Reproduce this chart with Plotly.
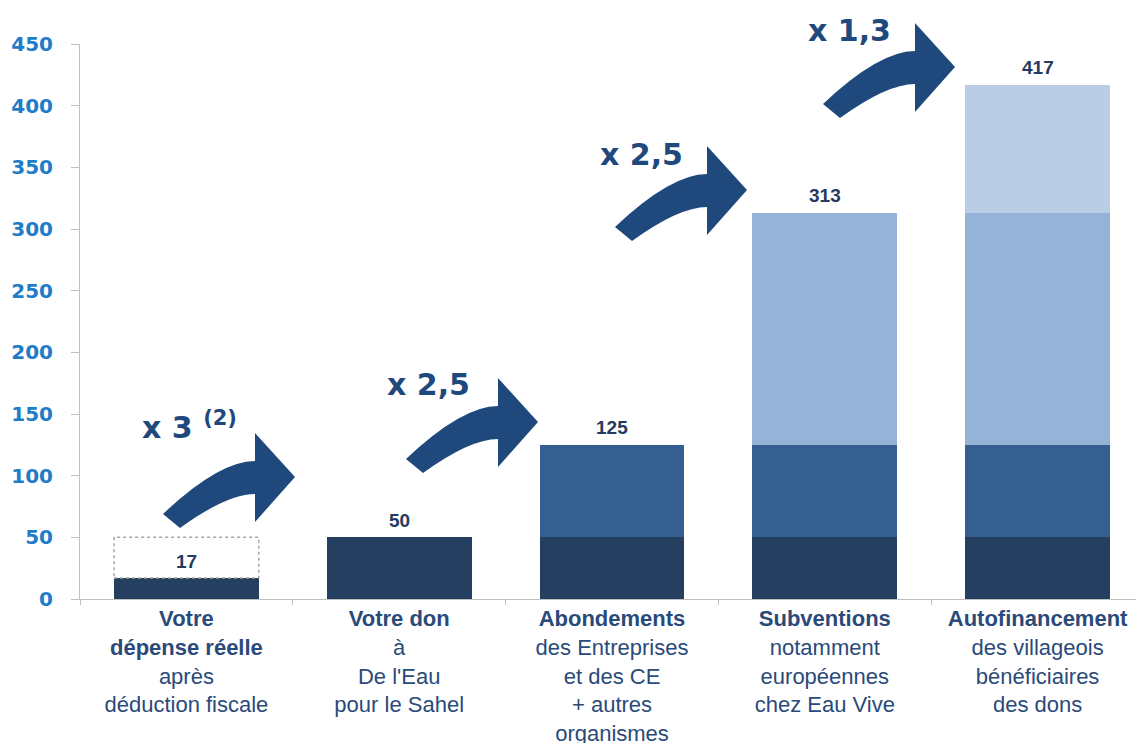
import plotly.graph_objects as go

# ---------------- data ----------------
categories = [
    "<b>Votre<br>dépense réelle</b><br>après<br>déduction fiscale",
    "<b>Votre don</b><br>à<br>De l'Eau<br>pour le Sahel",
    "<b>Abondements</b><br>des Entreprises<br>et des CE<br>+ autres<br>organismes",
    "<b>Subventions</b><br>notamment<br>européennes<br>chez Eau Vive",
    "<b>Autofinancement</b><br>des villageois<br>bénéficiaires<br>des dons",
]
layer_don = [17, 50, 50, 50, 50]          # dark base (17 = real cost after tax deduction)
layer_abondements = [0, 0, 75, 75, 75]
layer_subventions = [0, 0, 0, 188, 188]
layer_autofinancement = [0, 0, 0, 0, 104]
totals = [17, 50, 125, 313, 417]
multipliers = ["x 3 <sup>(2)</sup>", "x 2,5", "x 2,5", "x 1,3"]

layer_colors = ["#243f60", "#355f91", "#95b3d7", "#b9cde5"]
layers = [layer_don, layer_abondements, layer_subventions, layer_autofinancement]

# ---------------- layout geometry (pixels) ----------------
PAGE_OFFSET = 8                      # default body margin of the html page
W, H = 1144 - PAGE_OFFSET, 743 - PAGE_OFFSET
ML, MR, MT, MB = 80 - PAGE_OFFSET, 0, 44 - PAGE_OFFSET, 144
PW, PH = W - ML - MR, H - MT - MB
BOTTOM = H - MB


def to_paper(px, py):
    """page pixel -> paper coordinates"""
    px -= PAGE_OFFSET
    py -= PAGE_OFFSET
    return (px - ML) / PW, (BOTTOM - py) / PH


# curved arrow outline relative to its tip (pixels, y downward)
ARROW = [
    ("M", (0, 0)),
    ("L", (-40, -44)),
    ("L", (-40, -16)),
    ("Q", (-76, -16), (-132, 37)),
    ("L", (-115, 51)),
    ("Q", (-68, 17), (-40, 17)),
    ("L", (-40, 45)),
]
arrow_tips = [(295, 477), (538, 422), (747, 190), (955, 67)]
label_pos = [(140, 425), (385, 385), (598, 155), (806, 30)]


def arrow_path(tip):
    tx, ty = tip
    parts = []
    for seg in ARROW:
        cmd, pts = seg[0], seg[1:]
        coords = []
        for (dx, dy) in pts:
            x, y = to_paper(tx + dx, ty + dy)
            coords.append(f"{x:.5f},{y:.5f}")
        parts.append(cmd + " " + " ".join(coords))
    return " ".join(parts) + " Z"


fig = go.Figure()
for vals, col in zip(layers, layer_colors):
    fig.add_trace(go.Bar(
        x=categories, y=vals, marker=dict(color=col, line=dict(width=0)),
        hoverinfo="skip", showlegend=False,
    ))

shapes = []
# dotted outline showing the full donation over the real cost
shapes.append(dict(
    type="rect", xref="x", yref="y", x0=-0.34, x1=0.34,
    y0=layer_don[0], y1=layer_don[1],
    line=dict(color="#a6a6a6", width=1.5, dash="dot"),
    fillcolor="rgba(0,0,0,0)", layer="above",
))
for tip in arrow_tips:
    shapes.append(dict(
        type="path", xref="paper", yref="paper", path=arrow_path(tip),
        fillcolor="#1f497d", line=dict(width=0), layer="above",
    ))

annotations = []
for cat, tot in zip(categories, totals):
    annotations.append(dict(
        x=cat, y=tot, xref="x", yref="y", text=f"<b>{tot}</b>",
        showarrow=False, yanchor="middle", yshift=17,
        font=dict(family="Liberation Sans, Arial", size=19, color="#253a5e"),
    ))
for txt, (lx, ly) in zip(multipliers, label_pos):
    x, y = to_paper(lx, ly)
    annotations.append(dict(
        x=x, y=y, xref="paper", yref="paper", text=f"<b>{txt}</b>",
        showarrow=False, xanchor="left", yanchor="middle",
        font=dict(family="DejaVu Sans", size=30, color="#1f497d"),
    ))

fig.update_layout(
    width=W, height=H,
    margin=dict(l=ML, r=MR, t=MT, b=MB, pad=0, autoexpand=False),
    barmode="stack", bargap=0.32,
    plot_bgcolor="white", paper_bgcolor="white",
    shapes=shapes, annotations=annotations,
    showlegend=False,
)
fig.update_xaxes(
    automargin=False,
    showline=True, linecolor="#bfbfbf", linewidth=1,
    ticks="outside", ticklen=5, tickcolor="#bfbfbf", tickson="boundaries",
    showgrid=False,
    tickfont=dict(family="Liberation Sans, Arial", size=22, color="#2a4a7a"),
)
fig.update_yaxes(
    automargin=False,
    range=[0, 450], dtick=50, showline=True, linecolor="#bfbfbf", linewidth=1,
    ticks="outside", ticklen=8, tickcolor="#bfbfbf", showgrid=False,
    zeroline=False, ticklabelstandoff=14,
    tickfont=dict(family="DejaVu Sans", size=20, color="#1f7cc8", weight="bold"),
)

fig.write_html("out.html")
